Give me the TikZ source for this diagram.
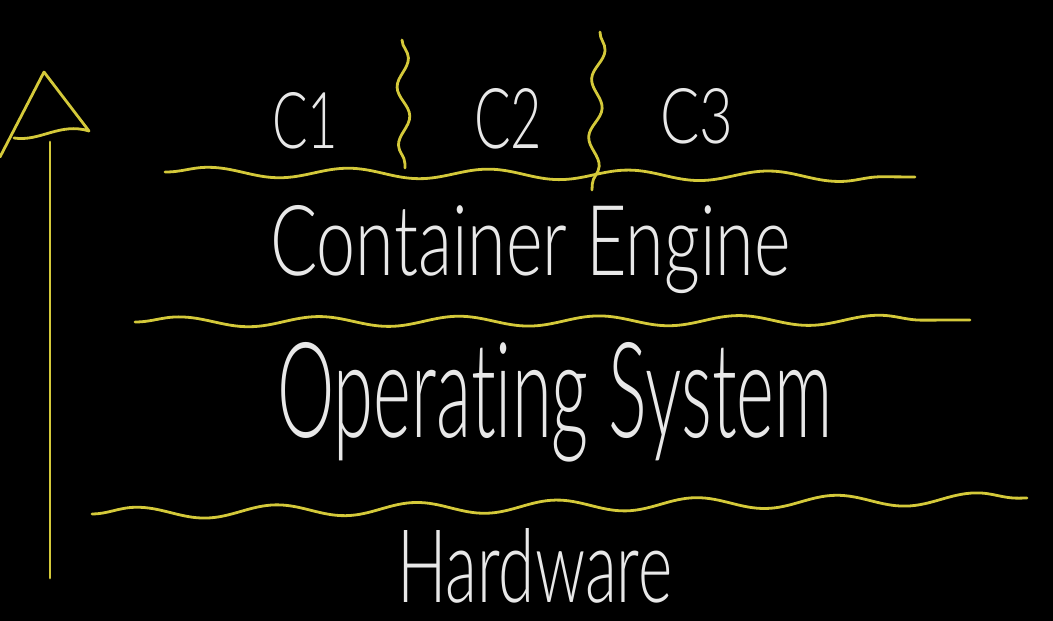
\documentclass[tikz,border=0pt]{standalone}
\usepackage{fontspec}
\usepackage{graphicx}
\newfontfamily\hand{Lato Light}
\usetikzlibrary{decorations.pathmorphing}
\definecolor{chalkyellow}{RGB}{212,201,58}
\definecolor{chalkwhite}{RGB}{232,232,232}
\tikzset{
  yl/.style={draw=chalkyellow, line width=2.8pt, line cap=round, line join=round},
  wave/.style={yl, decorate, decoration={snake, amplitude=#1, segment length=140pt}},
  wave/.default=5pt,
  vsquig/.style={yl, decorate, decoration={snake, amplitude=6pt, segment length=58pt}},
  lbl/.style={anchor=base west, inner sep=0pt, text=chalkwhite, font=\hand}
}
\begin{document}
\begin{tikzpicture}[x=1pt,y=-1pt]
\fill[black] (0,0) rectangle (1053,621);
\useasboundingbox (0,0) rectangle (1053,621);
% vertical arrow
\draw[yl] (44,72) -- (89,131) .. controls (60,122) and (40,142) .. (14,138);
\draw[yl] (44,72) -- (0,157);
\draw[yl] (50,142) -- (50,578);
% wavy layer separators
\coordinate (w1a) at (165,172); \coordinate (w1b) at (915,177);
\coordinate (w2a) at (135,322); \coordinate (w2b) at (970,320);
\coordinate (w3a) at (92,514);  \coordinate (w3b) at (1027,498);
\draw[wave] (w1a) -- (w1b);
\draw[wave] (w2a) -- (w2b);
\draw[wave=6pt] (w3a) -- (w3b);
% container separators
\coordinate (s1a) at (402,40); \coordinate (s1b) at (405,168);
\coordinate (s2a) at (600,32); \coordinate (s2b) at (592,190);
\draw[vsquig] (s1a) -- (s1b);
\draw[vsquig] (s2a) -- (s2b);
% labels
\node[lbl] (c1) at (272,148) {\resizebox{66pt}{56pt}{C1}};
\node[lbl] (c2) at (474,148) {\resizebox{68pt}{60pt}{C2}};
\node[lbl] (c3) at (660,143) {\resizebox{73pt}{55pt}{C3}};
\node[lbl] (ce) at (270,275) {\resizebox{520pt}{70pt}{Container Engine}};
\node[lbl] (os) at (277,437) {\resizebox{555pt}{95pt}{Operat\kern0pt ing System}};
\node[lbl] (hw) at (397,602) {\resizebox{275pt}{74pt}{Hardware}};
\end{tikzpicture}
\end{document}
